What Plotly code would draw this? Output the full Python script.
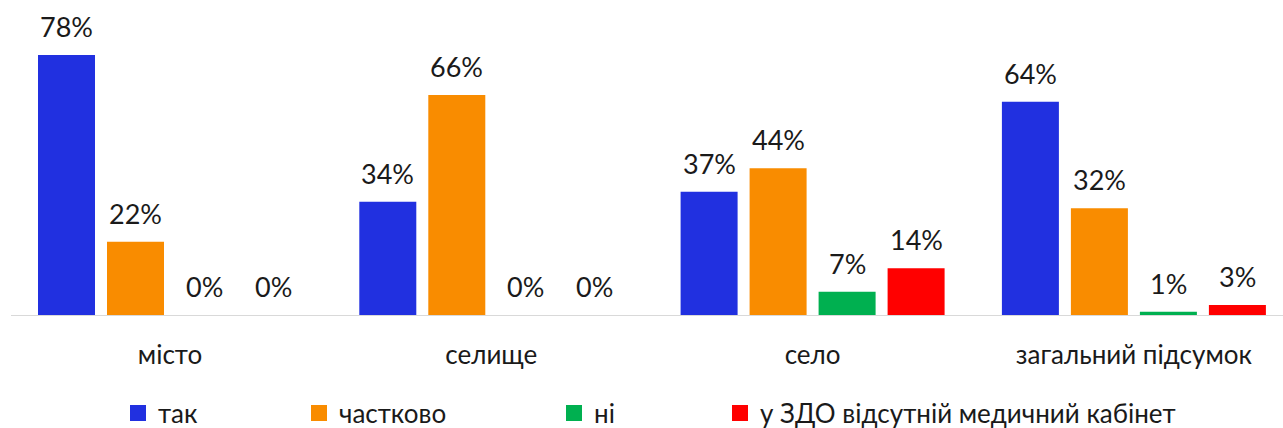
import plotly.graph_objects as go

categories = ["місто", "селище", "село", "загальний підсумок"]
series_names = ["так", "частково", "ні", "у ЗДО відсутній медичний кабінет"]
tak = [78, 34, 37, 64]
chastkovo = [22, 66, 44, 32]
ni = [0, 0, 7, 1]
vidsutnii = [0, 0, 14, 3]
colors = ["#2130E0", "#F98C00", "#00B050", "#FF0000"]

values = [tak, chastkovo, ni, vidsutnii]

W, H = 1283, 428
ml, mr, mt, mb = 11, 0, 10, 113
unit_px = 321.3
plot_w = W - ml - mr
x0 = -(170 - ml) / unit_px
xrange = [x0, x0 + plot_w / unit_px]
step = 69 / unit_px
bw = 57 / unit_px
px_per_pct = 260 / 78
yrange = [0, (H - mt - mb) / px_per_pct]

FONT = "Lato"
TXT = "#1a1a1a"

fig = go.Figure()
annotations = []
for j, (name, vals, col) in enumerate(zip(series_names, values, colors)):
    off = (j - 1.5) * step
    xs = [i + off for i in range(len(categories))]
    fig.add_trace(go.Bar(x=xs, y=vals, width=bw, marker=dict(color=col, line=dict(width=0)),
                         showlegend=False, hoverinfo="skip"))
    for x, v in zip(xs, vals):
        annotations.append(dict(x=x, y=v, xref="x", yref="y", text=f"{v}%", showarrow=False,
                                yanchor="bottom", yshift=10,
                                font=dict(family=FONT, size=27, color=TXT)))
    lg = "legend" if j == 0 else f"legend{j+1}"
    fig.add_trace(go.Scatter(x=[None], y=[None], mode="markers", name=name,
                             marker=dict(symbol="square", size=16, color=col),
                             legend=lg, showlegend=True))

legend_x = [118, 299, 554, 720]
leg_common = dict(orientation="h", xref="container", yref="container", y=(H - 413) / H,
                  yanchor="middle", xanchor="left", itemwidth=30,
                  font=dict(family=FONT, size=26, color=TXT), bgcolor="rgba(0,0,0,0)")
layout_legends = {}
for j, lx in enumerate(legend_x):
    key = "legend" if j == 0 else f"legend{j+1}"
    layout_legends[key] = dict(x=lx / W, **leg_common)

fig.update_layout(
    width=W, height=H,
    margin=dict(l=ml, r=mr, t=mt, b=mb, autoexpand=False),
    plot_bgcolor="white", paper_bgcolor="white",
    barmode="overlay",
    annotations=annotations,
    xaxis=dict(range=xrange, tickvals=list(range(len(categories))), ticktext=categories,
               showgrid=False, zeroline=False, showline=True, linecolor="#d9d9d9", linewidth=1,
               ticks="", ticklabelstandoff=17,
               tickfont=dict(family=FONT, size=26, color=TXT)),
    yaxis=dict(range=yrange, visible=False, showgrid=False, zeroline=False),
    **layout_legends,
)

fig.write_html("out.html", config={"displayModeBar": False},
               post_script="document.body.style.margin='0';")
